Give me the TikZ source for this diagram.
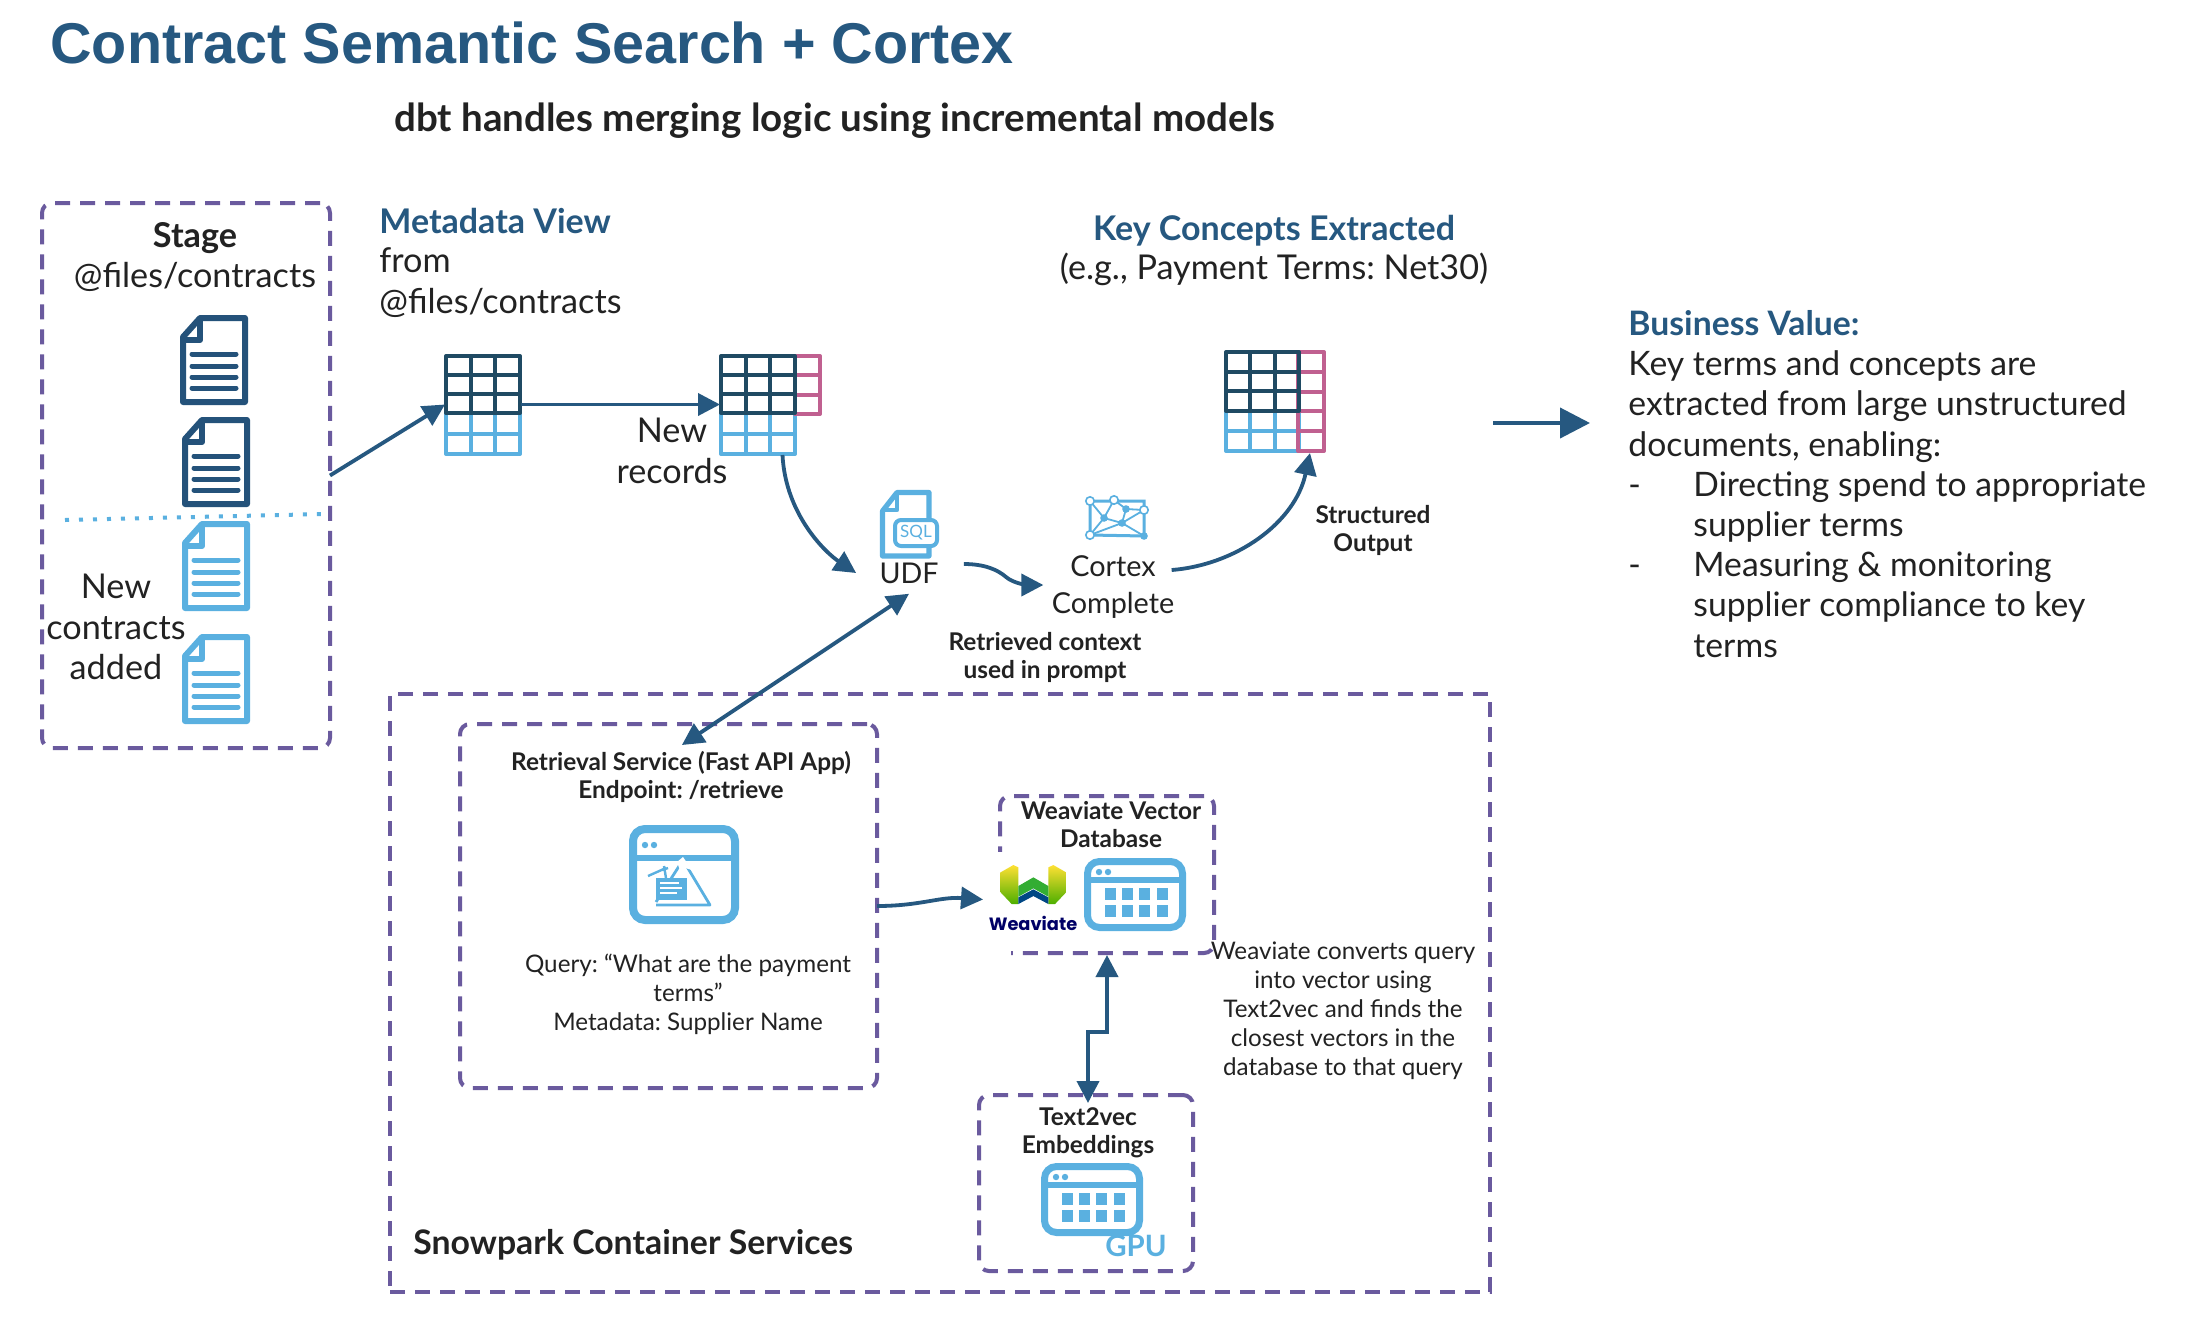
\documentclass[tikz,border=0pt]{standalone}
\usepackage{fontspec}
\setmainfont{Lato}
\newfontfamily\titlefont{Liberation Sans}
\newfontfamily\wvfont{Poppins}
\usetikzlibrary{arrows.meta,fit,calc}
\definecolor{navy}{HTML}{265880}
\definecolor{tbldark}{HTML}{1F4A63}
\definecolor{lblue}{HTML}{5AB0E0}
\definecolor{pinkc}{HTML}{C06090}
\definecolor{purp}{HTML}{6A5A9E}
\definecolor{ink}{HTML}{222222}
\definecolor{docdark}{HTML}{24527A}
\frenchspacing
\tikzset{
  dbox/.style={draw=purp,line width=2pt,dash pattern=on 7.5pt off 5pt,rounded corners=5pt,inner sep=0pt,outer sep=0pt},
  sbox/.style={draw=purp,line width=2pt,dash pattern=on 7.5pt off 5pt,inner sep=0pt,outer sep=0pt},
  ghost/.style={inner sep=0pt,outer sep=0pt},
  conn/.style={draw=navy,line width=1.9pt,-{Triangle[length=11pt,width=11pt]}},
  both/.style={draw=navy,line width=1.9pt,{Triangle[length=11pt,width=11pt]}-{Triangle[length=11pt,width=11pt]}},
  big/.style={text=ink,align=center,inner sep=0pt,font=\fontsize{17.1}{20.4}\selectfont},
  bigh/.style={big,text=navy,font=\fontsize{17}{20.4}\selectfont\bfseries},
  small/.style={text=ink,align=center,inner sep=0pt,font=\fontsize{12.1}{14.5}\selectfont},
  smallb/.style={small,font=\fontsize{12.2}{14}\selectfont\bfseries},
}
% document icon
\newcommand\docicon[3]{%
\begin{scope}[shift={(#1,#2)}]
\draw[#3,line width=3pt,line join=round] (3,22)--(20,3)--(65,3)--(65,87)--(3,87)--cycle;
\draw[#3,line width=3pt,line join=round] (20,3)--(20,25)--(3,25);
\foreach \yy in {39,51,62,73}{\draw[#3,line width=2.5pt,line cap=round] (12,\yy)--(56,\yy);}
\end{scope}}
% grid: x0,y0,x1,y1,cols,rows,colour
\newcommand\gridt[7]{%
\draw[#7,line width=2pt,line join=round] (#1,#2) rectangle (#3,#4);
\pgfmathsetmacro\gw{(#3-#1)/#5}\pgfmathsetmacro\gh{(#4-#2)/#6}
\foreach \ii in {1,...,#5}{\ifnum\ii<#5\relax\draw[#7,line width=2pt] ({#1+\ii*\gw},#2)--({#1+\ii*\gw},#4);\fi}
\foreach \ii in {1,...,#6}{\ifnum\ii<#6\relax\draw[#7,line width=2pt] (#1,{#2+\ii*\gh})--(#3,{#2+\ii*\gh});\fi}}
% browser frame: x,y,w,h,border,header
\newcommand\browser[6]{%
\begin{scope}[shift={(#1,#2)}]
\draw[lblue,line width={#5*0.5pt},rounded corners=6pt] ({#5/2},{#5/2}) rectangle ({#3-#5/2},{#4-#5/2});
\draw[lblue,line width=2.6pt] (0,#6)--(#3,#6);
\fill[lblue] (#5+8,{(#6+#5)/2-.5}) circle (1.6pt) (#5+17,{(#6+#5)/2-.5}) circle (1.6pt);
\end{scope}}
\newcommand\cells[2]{%
\begin{scope}[shift={(#1,#2)}]
\foreach \xx in {21,38.3,55.3,72.7}{\foreach \yy in {30,46.7}{\fill[lblue] (\xx,\yy) rectangle ++(11,12.3);}}
\end{scope}}
\begin{document}
\begin{tikzpicture}[x=0.5pt,y=-0.5pt]
\useasboundingbox (0,0) rectangle (2194,1328);
\fill[white] (0,0) rectangle (2194,1328);
% titles
\node[anchor=west,inner sep=0pt,text=navy,font=\titlefont\fontsize{28.75}{32}\selectfont\bfseries] (title) at (50,43) {Contract Semantic Search + Cortex};
\node[anchor=west,inner sep=0pt,text=ink,font=\fontsize{19.25}{22}\selectfont\bfseries] (sub) at (394,121) {dbt handles merging logic using incremental models};
% stage
\node[dbox,fit={(42,203)(330,748)}] (stage) {};
\node[big,font=\fontsize{17.1}{20.4}\selectfont\bfseries] (stagetitle) at (195,238) {Stage};
\node[big] (stagepath) at (195,277) {@files/contracts};
\docicon{180}{315}{docdark}
\docicon{182}{417}{docdark}
\docicon{182}{521}{lblue}
\docicon{182}{634}{lblue}
\draw[lblue,line width=2pt,dash pattern=on 2pt off 5pt] (65,520)--(324,514);
\node[big] (newc) at (116,627) {New\\contracts\\added};
% metadata
\node[bigh,anchor=west] (mvh) at (379,221) {Metadata View};
\node[big,align=left,anchor=north west] (mvt) at (379,247) {from\\@files/contracts};
% tables
\gridt{446}{413}{520}{454}{3}{2}{lblue}
\gridt{446}{356}{520}{413}{3}{3}{tbldark}
\node[ghost,fit={(445,354)(521,455)}] (t1) {};
\gridt{721}{413}{795}{454}{3}{2}{lblue}
\gridt{795}{356}{820}{414}{1}{3}{pinkc}
\gridt{721}{356}{795}{413}{3}{3}{tbldark}
\node[ghost,fit={(720,354)(821,455)}] (t2) {};
\gridt{1226}{411}{1299}{451}{3}{2}{lblue}
\gridt{1298}{352}{1324}{451}{1}{5}{pinkc}
\gridt{1226}{352}{1299}{411}{3}{3}{tbldark}
\node[ghost,fit={(1225,350)(1325,453)}] (t3) {};
\node[big] (newr) at (672,451) {New\\records};
% udf icon
\begin{scope}[shift={(880,490)}]
\draw[lblue,line width=2.6pt,line join=round] (2.5,21)--(17,2.5)--(49,2.5)--(49,66)--(2.5,66)--cycle;
\draw[lblue,line width=2.4pt,line join=round] (17,2.5)--(17,20)--(2.5,20);
\filldraw[fill=white,draw=lblue,line width=2pt,rounded corners=3pt] (15,30) rectangle (57,56);
\node[text=lblue,inner sep=0pt,font=\fontsize{8.5}{9}\selectfont] (sqlt) at (36,43) {SQL};
\end{scope}
\node[big,font=\fontsize{14.3}{18}\selectfont] (udf) at (909,573) {UDF};
% cortex icon
\begin{scope}[lblue,line width=.9pt]
\coordinate (cA) at (1090,501);\coordinate (cB) at (1114,500);\coordinate (cC) at (1144,510);\coordinate (cD) at (1126,509);
\coordinate (cE) at (1104,518);\coordinate (cF) at (1122,523);\coordinate (cG) at (1090,535);\coordinate (cH) at (1144,536);
\draw[line width=1.5pt] (cA)--(1144,501)--(cH)--(cG)--cycle;
\draw (cA)--(cE)--(cB)--(cD)--(cC) (cE)--(cF)--(cD) (cE)--(cG)--(cF)--(cH)--(cC) (cG)--(cH) (cF)--(cC);
\foreach \p in {cA,cB,cC,cG}{\filldraw[fill=white,draw=lblue,line width=.8pt] (\p) circle (2.1pt);}
\foreach \p in {cD,cE,cF,cH}{\fill (\p) circle (1.9pt);}
\end{scope}
\node[big,font=\fontsize{14.4}{18.2}\selectfont] (cortex) at (1113,587) {Cortex\\Complete};
\node[bigh] (kch) at (1274,231) {Key Concepts Extracted};
\node[big] (kct) at (1274,269) {(e.g., Payment Terms: Net30)};
\node[smallb] (ctx) at (1045,657) {Retrieved context\\used in prompt};
\node[smallb] (so) at (1373,530) {Structured\\Output};
% business
\node[anchor=north west,align=left,inner sep=0pt,text=ink,font=\fontsize{16.85}{20.1}\selectfont] (biz) at (1628,310) {{\bfseries\color{navy}Business Value:}\\
Key terms and concepts are\\
extracted from large unstructured\\
documents, enabling:\\
\makebox[32.5pt][l]{-}Directing spend to appropriate\\
\makebox[32.5pt][l]{}supplier terms\\
\makebox[32.5pt][l]{-}Measuring \& monitoring\\
\makebox[32.5pt][l]{}supplier compliance to key\\
\makebox[32.5pt][l]{}terms};
% lower boxes
\node[sbox,fit={(390,694)(1490,1292)}] (spcs) {};
\node[dbox,fit={(460,724)(877,1088)}] (ret) {};
\node[smallb] (rett) at (681,777) {Retrieval Service (Fast API App)\\Endpoint: /retrieve};
\browser{629}{825}{110}{99}{8}{33}
\begin{scope}[lblue]
\draw[line width=1.4pt,line join=round] (656,902)--(683,860)--(710,905)--(656,905);
\fill[white] (677,862) -- (683,857) -- (692,870) -- (685,868) -- (681,873) -- cycle;
\fill (656,878) rectangle (687,900);
\draw[white,line width=.8pt] (660,883)--(679,883) (660,888)--(682,888) (660,893)--(677,893);
\draw[line width=1.2pt] (648,876)--(666,868);
\draw[line width=1.2pt] (662,870)--(668,868) (664,866)--(666,878);
\end{scope}
\node[small] (q) at (688,994) {Query: “What are the payment\\terms”\\Metadata: Supplier Name};
% weaviate
\node[dbox,fit={(1000,796)(1214,953)}] (wv) {};
\fill[white] (992,852) rectangle (1011,958);
\node[smallb] (wvt) at (1111,825) {Weaviate Vector\\Database};
\browser{1084}{858}{102}{73}{7}{22}
\cells{1084}{858}
\begin{scope}[shift={(950,780)},x=0.1667pt,y=-0.1667pt]
\shade[top color=yellow!70!orange!80!white,bottom color=green!55!black!70!yellow] (150,278)--(190,255)--(205,262)--(205,372)--(185,372)--(150,335)--cycle;
\shade[top color=yellow!70!orange!80!white,bottom color=green!55!black!70!yellow] (350,278)--(310,255)--(295,262)--(295,372)--(315,372)--(350,335)--cycle;
\fill[green!60!black!80!white] (205,318)--(250,292)--(295,318)--(295,350)--(250,325)--(205,350)--cycle;
\fill[teal!70!blue!80!black] (205,352)--(250,328)--(295,352)--(295,372)--(250,348)--(205,372)--cycle;
\end{scope}
\node[inner sep=0pt,text=blue!40!black,font=\wvfont\fontsize{8.9}{10}\selectfont\bfseries] (wvl) at (1033,923) {Weaviate};
\node[small] (wvx) at (1343,1011) {Weaviate converts query\\into vector using\\Text2vec and finds the\\closest vectors in the\\database to that query};
% text2vec
\node[dbox,fit={(979,1095)(1193,1271)}] (t2v) {};
\node[smallb] (t2vt) at (1088,1133) {Text2vec\\Embeddings};
\browser{1041}{1163}{102}{73}{7}{22}
\cells{1041}{1163}
\node[inner sep=0pt,text=lblue,font=\fontsize{14.7}{16}\selectfont\bfseries] (gpu) at (1136,1246) {GPU};
\node[anchor=west,inner sep=0pt,text=ink,font=\fontsize{16.9}{20}\selectfont\bfseries] (spt) at (413,1245) {Snowpark Container Services};
% connectors
\draw[conn] (stage.east) -- (t1.west);
\draw[conn] (t1.east) -- (t2.west);
\draw[conn] ([xshift=6pt]t2.south) .. controls +(3,60) and +(-30,-20) .. ([xshift=-11.5pt]udf.west);
\draw[conn] ([xshift=12.5pt,yshift=4.5pt]udf.east) .. controls (985,564) and (998,570) .. (1006,577) .. controls (1014,584) and (1030,585) .. ([xshift=-4pt,yshift=1pt]cortex.west);
\draw[conn] ([xshift=-1.5pt,yshift=8.5pt]cortex.east) .. controls +(64,-5) and +(-15,70) .. ([xshift=17.5pt]t3.south);
\draw[both] ([xshift=6.7pt,yshift=-10.5pt]ret.north) -- ([yshift=-5pt]udf.south);
\draw[conn] (ret.east) .. controls +(43,0) and +(-43,-3) .. ([xshift=-8.5pt,yshift=-12.5pt]wv.west);
\coordinate (elb1) at (1088,1032);
\coordinate (elb2) at (1107,1032);
\draw[both] ([xshift=1pt,yshift=-4pt]t2v.north) -- (elb1) -- (elb2) -- ([yshift=-1pt]wv.south);
\node[ghost] (bigL) at (1492,423) {};
\node[ghost] (bigR) at (1591,423) {};
\draw[navy,line width=2pt,-{Triangle[length=15pt,width=15pt]}] (bigL) -- (bigR);
\end{tikzpicture}
\end{document}
